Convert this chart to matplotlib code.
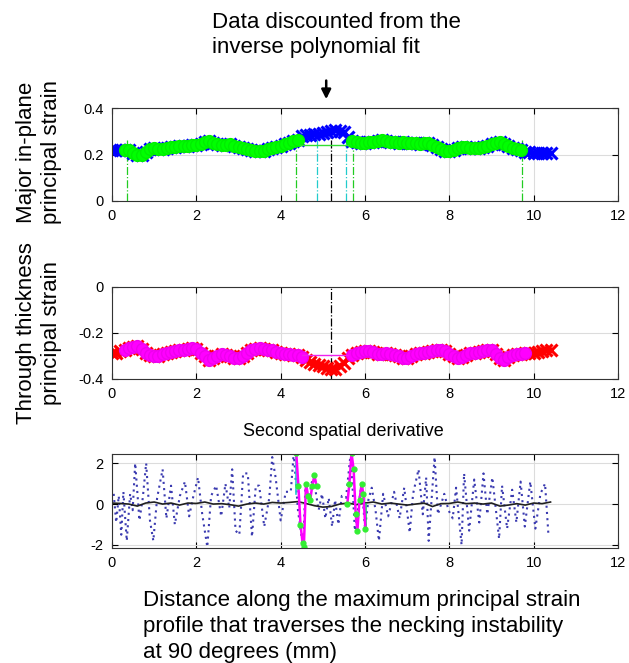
import numpy as np
import matplotlib
matplotlib.use("Agg")
import matplotlib.pyplot as plt
from matplotlib.ticker import FuncFormatter

plt.rcParams['font.family'] = ['Liberation Sans', 'DejaVu Sans']

# ---------------- data ----------------
distance = np.linspace(0, 10.4, 105)   # sampling positions along the profile (mm)

major_strain = [
    0.220, 0.220, 0.220, 0.220, 0.218, 0.205, 0.197, 0.200, 0.210, 0.222,
    0.227, 0.224, 0.222, 0.228, 0.232, 0.234, 0.236, 0.236, 0.238, 0.240,
    0.242, 0.246, 0.252, 0.256, 0.250, 0.245, 0.242, 0.240, 0.244, 0.238,
    0.234, 0.228, 0.222, 0.218, 0.215, 0.213, 0.216, 0.222, 0.227, 0.232,
    0.238, 0.244, 0.249, 0.256, 0.263, 0.278, 0.282, 0.285, 0.287, 0.290,
    0.292, 0.296, 0.300, 0.304, 0.303, 0.298, 0.275, 0.256, 0.252, 0.250,
    0.249, 0.252, 0.255, 0.260, 0.263, 0.258, 0.254, 0.252, 0.250, 0.252,
    0.250, 0.248, 0.250, 0.246, 0.250, 0.248, 0.242, 0.232, 0.222, 0.216,
    0.213, 0.218, 0.228, 0.232, 0.234, 0.230, 0.226, 0.228, 0.232, 0.238,
    0.244, 0.250, 0.252, 0.245, 0.235, 0.227, 0.225, 0.220, 0.212, 0.209,
    0.207, 0.206, 0.206, 0.205, 0.205,
]

thickness_strain = [
    -0.287, -0.285, -0.280, -0.272, -0.265, -0.260, -0.258, -0.268, -0.285, -0.296,
    -0.301, -0.298, -0.290, -0.286, -0.284, -0.280, -0.276, -0.272, -0.268, -0.265,
    -0.270, -0.285, -0.302, -0.316, -0.310, -0.300, -0.292, -0.296, -0.302, -0.307,
    -0.309, -0.300, -0.288, -0.276, -0.268, -0.265, -0.268, -0.272, -0.276, -0.282,
    -0.287, -0.290, -0.292, -0.294, -0.295, -0.305, -0.316, -0.325, -0.333, -0.340,
    -0.345, -0.352, -0.358, -0.355, -0.345, -0.330, -0.309, -0.295, -0.287, -0.283,
    -0.280, -0.280, -0.284, -0.290, -0.292, -0.288, -0.290, -0.296, -0.302, -0.307,
    -0.309, -0.302, -0.292, -0.286, -0.288, -0.284, -0.280, -0.276, -0.273, -0.278,
    -0.290, -0.302, -0.309, -0.304, -0.294, -0.286, -0.288, -0.284, -0.278, -0.275,
    -0.273, -0.290, -0.308, -0.316, -0.305, -0.295, -0.290, -0.290, -0.288, -0.287,
    -0.285, -0.282, -0.280, -0.276, -0.273,
]

# ranges kept by the inverse polynomial fit
major_fit_ranges = [(0.3, 4.4), (5.7, 9.75)]
thick_fit_ranges = [(0.25, 4.5), (5.65, 9.85)]
major_fit_level = 0.242
thick_fit_level = -0.294
major_green_marks = [0.35, 4.37, 5.71, 9.72]
major_cyan_marks = [4.86, 5.54]
neck_position = 5.2

# second spatial derivative (raw, dotted)
deriv_x = [
    0.04, 0.10, 0.16, 0.22, 0.27, 0.35, 0.43, 0.49, 0.55, 0.65,
    0.73, 0.81, 0.90, 0.98, 1.07, 1.20, 1.29, 1.40, 1.49, 1.61,
    1.73, 1.83, 1.92, 2.04, 2.14, 2.26, 2.35, 2.47, 2.59, 2.69,
    2.78, 2.85, 2.93, 3.02, 3.11, 3.22, 3.32, 3.41, 3.49, 3.61,
    3.73, 3.80, 3.88, 4.00, 4.12, 4.24, 4.31, 4.41, 4.53, 4.59,
    4.67, 4.77, 4.90, 4.98, 5.06, 5.14, 5.22, 5.29, 5.37, 5.45,
    5.55, 5.66, 5.76, 5.92, 6.00, 6.08, 6.16, 6.25, 6.33, 6.43,
    6.55, 6.69, 6.82, 6.93, 7.06, 7.14, 7.27, 7.37, 7.45, 7.51,
    7.65, 7.73, 7.88, 7.98, 8.08, 8.16, 8.29, 8.35, 8.47, 8.59,
    8.71, 8.81, 8.90, 9.02, 9.18, 9.25, 9.37, 9.49, 9.59, 9.69,
    9.79, 9.92, 10.04, 10.16, 10.27, 10.35,
]
deriv_y = [
    0.5, -0.9, 0.4, -1.5, 0.6, -1.8, 0.5, -0.3, 2.0, -0.8,
    0.3, 2.0, -0.8, -1.8, 0.3, 1.7, -0.7, 0.9, -1.0, 0.4,
    1.1, -0.6, 0.3, 1.3, -0.5, -2.1, 0.4, 0.9, -0.6, 1.0,
    -0.2, 1.7, -1.3, -1.5, 1.5, 1.5, -1.6, 0.9, 0.9, -1.1,
    0.3, 2.3, 1.3, -0.8, 0.6, 0.6, 2.5, -0.3, -2.1, 1.0,
    0.3, 1.4, -0.3, 0.5, -0.7, 0.3, -1.1, 0.2, -1.0, 0.4,
    0.3, 2.5, -1.3, 1.0, -1.2, 0.2, 0.8, -0.3, -1.8, 0.5,
    -0.6, 0.6, -0.7, 0.8, -1.4, 0.5, 1.7, -0.5, 1.3, -1.8,
    2.3, -0.5, 0.5, -0.3, -0.7, 0.8, -2.0, 1.5, -1.3, 1.2,
    -0.9, 1.5, -0.5, 1.3, -1.7, 0.9, -1.2, 0.7, -0.9, 1.1,
    -1.1, 1.1, -1.2, 0.5, 1.0, -1.5,
]

# smoothed derivative (solid black)
smooth_x = np.linspace(0, 10.4, 53)
smooth_y = [
    0.05, 0.03, 0.00, -0.10, 0.05, 0.10, 0.00, 0.05, -0.05, 0.05,
    0.03, 0.10, 0.00, 0.02, -0.03, -0.10, 0.00, 0.05, 0.00, 0.08,
    0.05, 0.08, 0.12, 0.03, -0.08, -0.15, -0.12, 0.00, 0.05, -0.03,
    0.05, 0.10, 0.00, 0.05, 0.00, -0.05, 0.00, 0.05, -0.12, 0.02,
    0.03, 0.10, 0.02, 0.05, 0.00, 0.05, -0.10, -0.05, 0.02, -0.05,
    0.05, 0.02, 0.10,
]

# discounted portions of the derivative
disc1_x = [4.37, 4.42, 4.47, 4.52, 4.55, 4.60, 4.65, 4.70, 4.75, 4.80, 4.85]
disc1_y = [2.5, 0.9, -1.0, -1.9, -2.1, 1.0, 0.4, 0.2, 0.9, 1.4, 0.9]
disc2_x = [5.58, 5.63, 5.68, 5.73, 5.78, 5.82, 5.87, 5.92, 5.96, 6.01]
disc2_y = [0.0, 1.0, 2.5, 1.7, -0.5, -1.3, 0.2, 1.0, 0.5, -1.2]

# ---------------- figure ----------------
W, H = 629, 663
fig = plt.figure(figsize=(W / 100, H / 100), dpi=100)


def ax_rect(left, top, right, bottom):
    return [left / W, 1 - bottom / H, (right - left) / W, (bottom - top) / H]


ax1 = fig.add_axes(ax_rect(112, 108, 618, 201))
ax2 = fig.add_axes(ax_rect(112, 287, 618, 379))
ax3 = fig.add_axes(ax_rect(112, 454, 618, 548))

hyphen = FuncFormatter(lambda v, p: ('%g' % v).replace('\u2212', '-'))

for ax in (ax1, ax2, ax3):
    ax.set_xlim(0, 12)
    ax.set_xticks([0, 2, 4, 6, 8, 10, 12])
    ax.grid(True, color='#dcdcdc', linewidth=0.8)
    ax.set_axisbelow(True)
    ax.tick_params(direction='in', top=True, right=True, length=4,
                   labelsize=10.5, pad=6, width=0.8)
    ax.xaxis.set_major_formatter(hyphen)
    ax.yaxis.set_major_formatter(hyphen)
    for s in ax.spines.values():
        s.set_linewidth(0.8)
        s.set_color('#333333')

d = np.asarray(distance)

# ---- panel 1 ----
ms = np.asarray(major_strain)
ax1.set_ylim(0, 0.4)
ax1.set_yticks([0, 0.2, 0.4])
for xv in major_green_marks:
    ax1.plot([xv, xv], [0, 0.27], color='#22cc22', ls='-.', lw=0.9)
for xv in major_cyan_marks:
    ax1.plot([xv, xv], [0, 0.27], color='#22cccc', ls='-.', lw=0.9)
ax1.plot([neck_position, neck_position], [0, 0.28], color='black', ls='-.', lw=0.9)
ax1.plot(d, ms, ls='-', lw=3, marker='x', color='#0000ff', ms=8, mew=2.2)
for a, b in major_fit_ranges:
    sel = (d >= a - 1e-9) & (d <= b + 1e-9)
    ax1.plot(d[sel], ms[sel], ls='-', lw=5, marker='o', color='#00ff00',
             ms=8.5, mec='#00ee00')
ax1.plot([4.45, 5.6], [major_fit_level, major_fit_level], color='#33dd33', lw=1)
ax1.annotate('', xy=(5.08, 0.426), xytext=(5.08, 0.53),
             arrowprops=dict(arrowstyle='-|>', color='black', lw=1.8,
                             mutation_scale=14),
             annotation_clip=False)

# ---- panel 2 ----
ts = np.asarray(thickness_strain)
ax2.set_ylim(-0.4, 0)
ax2.set_yticks([-0.4, -0.2, 0])
ax2.plot([neck_position, neck_position], [-0.4, 0], color='black', ls='-.', lw=0.9)
ax2.plot(d, ts, ls='-', lw=3, marker='x', color='#ff0000', ms=8, mew=2.2)
for a, b in thick_fit_ranges:
    sel = (d >= a - 1e-9) & (d <= b + 1e-9)
    ax2.plot(d[sel], ts[sel], ls='-', lw=5, marker='o', color='#ff00ff',
             ms=8.5, mec='#ee00ee')
ax2.plot([4.5, 5.6], [thick_fit_level, thick_fit_level], color='#ee22ee', lw=1)

# ---- panel 3 ----
ax3.set_ylim(-2.15, 2.45)
ax3.set_yticks([-2, 0, 2])
ax3.plot(deriv_x, deriv_y, ls=(0, (1, 2)), color='#3a3ab0', lw=1.5)
ax3.plot(smooth_x, smooth_y, ls='-', color='#202020', lw=1.2)
ax3.plot([4.37, 4.37], [0.5, 2.5], color='#22cccc', lw=1.2)
ax3.plot([6.02, 6.02], [-1.2, 0.0], color='#22cc66', lw=1.2)
for xs, ys in ((disc1_x, disc1_y), (disc2_x, disc2_y)):
    ax3.plot(xs, ys, color='#ff00ff', lw=1.8, marker='o', ms=3.5,
             mfc='#33ee33', mec='#33ee33')

# ---- texts ----
fig.text(343 / W, 1 - 432 / H, 'Second spatial derivative', ha='center',
         va='center', fontsize=13)
fig.text(212 / W, 1 - 12 / H, 'Data discounted from the\ninverse polynomial fit',
         ha='left', va='top', fontsize=16, linespacing=1.25)
fig.text(39 / W, 1 - 152 / H, 'Major in-plane\nprincipal strain', rotation=90,
         ha='center', va='center', fontsize=16, linespacing=1.22)
fig.text(39 / W, 1 - 333 / H, 'Through thickness\nprincipal strain', rotation=90,
         ha='center', va='center', fontsize=16, linespacing=1.22)
fig.text(143 / W, 1 - 590 / H,
         'Distance along the maximum principal strain\n'
         'profile that traverses the necking instability\n'
         'at 90 degrees (mm)',
         ha='left', va='top', fontsize=16, linespacing=1.3)

fig.savefig('out.png', dpi=100)
